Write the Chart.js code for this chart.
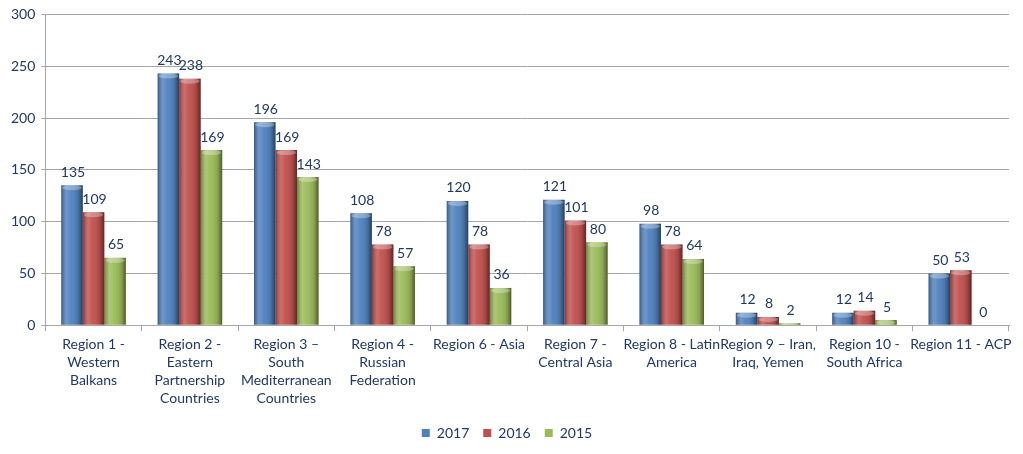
<!DOCTYPE html>
<html>
<head>
<meta charset="utf-8">
<script src="https://cdn.jsdelivr.net/npm/chart.js@4/dist/chart.umd.min.js"></script>
<style>
 html, body { margin: 0; padding: 0; background: #fff; }
 #wrap { width: 1023px; height: 454px; }
</style>
</head>
<body>
<div id="wrap"><canvas id="regionChart"></canvas></div>
<script>
const regions = [
 ['Region 1 -', 'Western', 'Balkans'],
 ['Region 2 -', 'Eastern', 'Partnership', 'Countries'],
 ['Region 3 \u2013', 'South', 'Mediterranean', 'Countries'],
 ['Region 4 -', 'Russian', 'Federation'],
 'Region 6 - Asia',
 ['Region 7 -', 'Central Asia'],
 ['Region 8 - Latin', 'America'],
 ['Region 9 \u2013 Iran,', 'Iraq, Yemen'],
 ['Region 10 -', 'South Africa'],
 'Region 11 - ACP'
];
const values2017 = [135, 243, 196, 108, 120, 121, 98, 12, 12, 50];
const values2016 = [109, 238, 169, 78, 78, 101, 78, 8, 14, 53];
const values2015 = [65, 169, 143, 57, 36, 80, 64, 2, 5, 0];
const yTicks = [0, 50, 100, 150, 200, 250, 300];

const textCol = '#1f3864';
const fontFam = 'Lato, "Noto Sans", sans-serif';

// cylinder-like shading on top of each bar
const shadePlugin = {
 id: 'shade',
 afterDatasetDraw(chart, args) {
  const ctx = chart.ctx;
  args.meta.data.forEach(bar => {
   const { x, y, base, width } = bar.getProps(['x', 'y', 'base', 'width'], true);
   if (base - y < 1) return;
   const l = x - width / 2;
   const g = ctx.createLinearGradient(l, 0, l + width, 0);
   g.addColorStop(0, 'rgba(0,0,0,0.3)');
   g.addColorStop(0.25, 'rgba(255,255,255,0.18)');
   g.addColorStop(0.45, 'rgba(255,255,255,0.05)');
   g.addColorStop(0.8, 'rgba(0,0,0,0.14)');
   g.addColorStop(1, 'rgba(0,0,0,0.5)');
   ctx.save();
   ctx.fillStyle = g;
   ctx.fillRect(l, y, width, base - y);
   // light cap on the top
   const capH = Math.min(5, base - y);
   ctx.fillStyle = 'rgba(255,255,255,0.3)';
   ctx.beginPath();
   ctx.ellipse(x, y + capH / 2, width / 2 - 1, capH / 2, 0, 0, Math.PI * 2);
   ctx.fill();
   ctx.restore();
  });
 }
};

// value labels above bars
const labelPlugin = {
 id: 'valueLabels',
 afterDatasetsDraw(chart) {
  const ctx = chart.ctx;
  ctx.save();
  ctx.font = '14px ' + fontFam;
  ctx.fillStyle = textCol;
  ctx.textAlign = 'center';
  ctx.textBaseline = 'bottom';
  chart.data.datasets.forEach((ds, i) => {
   chart.getDatasetMeta(i).data.forEach((bar, j) => {
    ctx.fillText(ds.data[j], bar.x + 1, bar.y - 6);
   });
  });
  ctx.restore();
 }
};

new Chart(document.getElementById('regionChart'), {
 type: 'bar',
 data: {
  labels: regions,
  datasets: [
   { label: '2017', data: values2017, backgroundColor: '#4f81bd' },
   { label: '2016', data: values2016, backgroundColor: '#c0504d' },
   { label: '2015', data: values2015, backgroundColor: '#9bbb59' }
  ]
 },
 options: {
  responsive: true,
  maintainAspectRatio: false,
  animation: false,
  layout: { padding: { top: 10, right: 14, left: 5, bottom: 4 } },
  datasets: { bar: { categoryPercentage: 0.67, barPercentage: 1 } },
  plugins: {
   legend: {
    position: 'bottom',
    labels: {
     color: textCol,
     font: { family: fontFam, size: 14 },
     boxWidth: 8,
     boxHeight: 8,
     padding: 14
    }
   },
   tooltip: { enabled: false }
  },
  scales: {
   x: {
    grid: { display: true, drawOnChartArea: false, offset: true, tickLength: 6, color: '#a6a6a6' },
    border: { color: '#a6a6a6' },
    ticks: {
     color: textCol,
     font: { family: fontFam, size: 14, lineHeight: 1.3 },
     maxRotation: 0,
     autoSkip: false,
     padding: 4
    }
   },
   y: {
    min: 0,
    max: 300,
    afterBuildTicks(axis) { axis.ticks = yTicks.map(v => ({ value: v })); },
    grid: { color: '#a6a6a6', tickLength: 4 },
    border: { color: '#a6a6a6' },
    ticks: {
     color: textCol,
     font: { family: fontFam, size: 14 },
     padding: 6
    }
   }
  }
 },
 plugins: [shadePlugin, labelPlugin]
});
</script>
</body>
</html>
